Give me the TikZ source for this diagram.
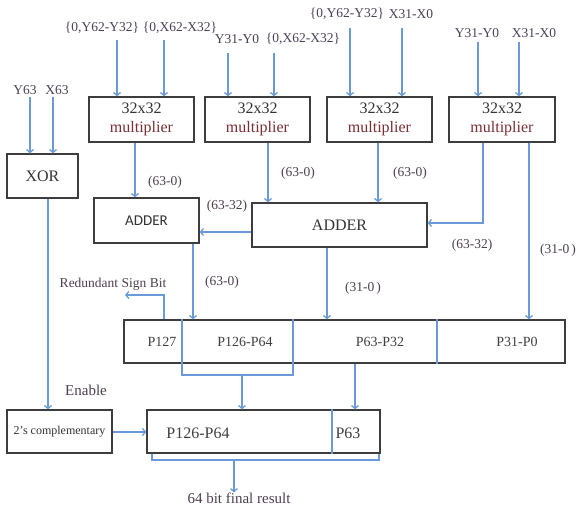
\documentclass[tikz,border=0pt]{standalone}
\usepackage{fontspec}
\setmainfont{Liberation Serif}
\newfontfamily\calib{Carlito}
\usetikzlibrary{arrows.meta,calc}
\definecolor{wire}{HTML}{6A9BD8}
\definecolor{boxline}{HTML}{3D3D3D}
\definecolor{intext}{HTML}{4C4058}
\definecolor{lbltext}{HTML}{4D3F4F}
\definecolor{multext}{HTML}{7A2F35}
\begin{document}
\begin{tikzpicture}[x=1pt,y=-1pt,
  box/.style={draw=boxline,line width=1.3pt,fill=white,inner sep=0pt,text=black!80},
  wirel/.style={draw=wire,line width=1.3pt},
  arr/.style={wirel,-{Straight Barb[length=3pt,width=7pt]}},
  intxt/.style={inner sep=0pt,text=intext,font=\fontsize{13.5}{14}\selectfont},
  lbl/.style={inner sep=0pt,text=lbltext,font=\fontsize{13.5}{14}\selectfont},
  mult/.style={box,minimum width=105pt,minimum height=45pt,align=center,
    font=\fontsize{16}{17}\selectfont},
  ptxt/.style={inner sep=0pt,text=black!75,font=\fontsize{14}{15}\selectfont}]
\useasboundingbox (0,0) rectangle (576,508);

% operand labels
\node[intxt] (in1) at (102,28) {\{0,Y62-Y32\}};
\node[intxt] (in2) at (180,28) {\{0,X62-X32\}};
\node[intxt] (in3) at (237,39) {Y31-Y0};
\node[intxt] (in4) at (303,39) {\{0,X62-X32\}};
\node[intxt] (in5) at (347,14) {\{0,Y62-Y32\}};
\node[intxt] (in6) at (411,14) {X31-X0};
\node[intxt] (in7) at (477,33) {Y31-Y0};
\node[intxt] (in8) at (534,33) {X31-X0};
\node[intxt] (y63) at (25,90) {Y63};
\node[intxt] (x63) at (57,90) {X63};

% blocks
\node[box,minimum width=71pt,minimum height=44pt,font=\fontsize{16}{17}\selectfont] (xor) at (42.5,176) {XOR};
\node[mult] (m1) at (141.5,119.5) {32x32\\[2pt]\textcolor{multext}{multiplier}};
\node[mult] (m2) at (257.5,119.5) {32x32\\[2pt]\textcolor{multext}{multiplier}};
\node[mult] (m3) at (379.5,119.5) {32x32\\[2pt]\textcolor{multext}{multiplier}};
\node[mult,minimum width=106pt] (m4) at (502,119.5) {32x32\\[2pt]\textcolor{multext}{multiplier}};
\node[box,minimum width=105pt,minimum height=45pt,font=\calib\fontsize{15}{16}\selectfont] (add1) at (146.5,220.5) {ADDER};
\node[box,minimum width=175pt,minimum height=44pt,font=\fontsize{16}{17}\selectfont] (add2) at (339.5,225) {ADDER};
\node[box,minimum width=441pt,minimum height=43pt] (pbox) at (344.5,341.5) {};
\node[box,minimum width=105pt,minimum height=43pt,font=\fontsize{12}{13}\selectfont] (comp) at (59.5,431.5) {2's complementary};
\node[box,minimum width=233pt,minimum height=43pt] (res) at (263.5,431.5) {};

% operand wires
\coordinate (a1) at (117,40);  \coordinate (a2) at (164,40);
\coordinate (a3) at (228,53);  \coordinate (a4) at (274,53);
\coordinate (a5) at (350,28);  \coordinate (a6) at (402,28);
\coordinate (a7) at (478,42);  \coordinate (a8) at (519,42);
\coordinate (a9) at (30,97);   \coordinate (a10) at (53,97);
\foreach \c/\t in {a1/m1,a2/m1,a3/m2,a4/m2,a5/m3,a6/m3,a7/m4,a8/m4,a9/xor,a10/xor}
  \draw[arr] (\c) -- (\c |- \t.north);

% partial products into the adders
\draw[arr] (m1.south -| 135,0) -- (add1.north -| 135,0);
\draw[arr] (m2.south -| 268,0) -- (add2.north -| 268,0);
\draw[arr] (m3.south -| 378,0) -- (add2.north -| 378,0);
\draw[arr] (m4.south -| 483,0) |- (add2.east |- 0,223);
\draw[arr] (m4.south -| 529,0) -- (pbox.north -| 529,0);
\draw[arr] (add2.west |- 0,232) -- (add1.east |- 0,232);
\draw[arr] (add1.south -| 193,0) -- (pbox.north -| 193,0);
\draw[arr] (add2.south -| 327,0) -- (pbox.north -| 327,0);

\node[lbl] (l1) at (165,182) {(63-0)};
\node[lbl] (l2) at (298,173) {(63-0)};
\node[lbl] (l3) at (410,173) {(63-0)};
\node[lbl] (l4) at (227,206) {(63-32)};
\node[lbl] (l5) at (472,245) {(63-32)};
\node[lbl] (l6) at (558,250) {(31-0\,)};
\node[lbl] (l7) at (222,282) {(63-0)};
\node[lbl] (l8) at (363,288) {(31-0\,)};

% sign bit
\coordinate (sb) at (125,295);
\draw[arr] (pbox.north -| 164,0) |- (sb);
\node[lbl,font=\fontsize{13.5}{14}\selectfont] (rsb) at (113,284) {Redundant Sign Bit};

% product register fields
\draw[wirel] (pbox.north -| 182,0) -- (182,375) coordinate (bl) -- (293,375) coordinate (br) -- (pbox.north -| 293,0);
\draw[wirel] (pbox.north -| 437,0) -- (pbox.south -| 437,0);
\node[ptxt] (p127) at (162,342) {P127};
\node[ptxt] (p126) at (245,342) {P126-P64};
\node[ptxt] (p63) at (380,342) {P63-P32};
\node[ptxt] (p31) at (517,342) {P31-P0};

% final stage
\draw[arr] (242,375) -- (res.north -| 242,0);
\draw[arr] (pbox.south -| 355,0) -- (res.north -| 355,0);
\draw[arr] (xor.south -| 48,0) -- (comp.north -| 48,0);
\node[lbl,font=\fontsize{15}{16}\selectfont] (en) at (86,390) {Enable};
\draw[arr] (comp.east |- 0,432) -- (res.west |- 0,432);
\draw[wirel] (res.north -| 332,0) -- (res.south -| 332,0);
\node[ptxt,font=\fontsize{16}{17}\selectfont] (rp1) at (198,433) {P126-P64};
\node[ptxt,font=\fontsize{16}{17}\selectfont] (rp2) at (348,433) {P63};
\draw[wirel] (res.south -| 152,0) -- (152,460) -- (379,460) -- (res.south -| 379,0);
\node[lbl,font=\fontsize{15}{16}\selectfont] (fin) at (239,498) {64 bit final result};
\draw[arr] (234,460) -- (fin.north -| 234,0);
\end{tikzpicture}
\end{document}
